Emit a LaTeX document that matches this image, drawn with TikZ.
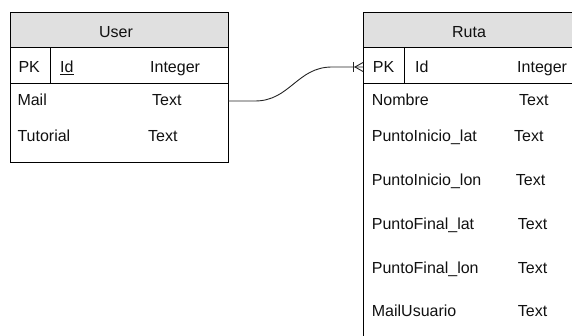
\documentclass[tikz,border=0pt]{standalone}
\usepackage{fontspec}
\setmainfont{Liberation Sans}
\definecolor{headgray}{HTML}{E0E0E0}
\definecolor{inkgray}{HTML}{111111}
\begin{document}
\begin{tikzpicture}[x=1pt,y=-1pt,
  lbl/.style={anchor=base west, inner sep=0pt, text=inkgray, font=\fontsize{16}{19}\selectfont},
  hdr/.style={anchor=base, inner sep=0pt, text=inkgray, font=\fontsize{16}{19}\selectfont},
  frame/.style={draw=black, line width=1pt},
  link/.style={draw=black!85, line width=0.9pt}]
\useasboundingbox (0,0) rectangle (572,336);
\clip (0,0) rectangle (572,336);

% ---- User table ----
\fill[headgray] (10,13) rectangle (228,47.3);
\draw[frame] (10,13) rectangle (228,162.5);
\draw[frame] (10,47.3) -- (228,47.3);
\draw[frame] (10,83.3) -- (228,83.3);
\draw[frame] (50.7,47.3) -- (50.7,83.3);
\node[hdr] (userT) at (116,37.3) {User};
\node[lbl] (userPK) at (18.3,72.5) {PK};
\node[lbl] (userId) at (60,72.5) {\underline{Id}};
\node[lbl] (userIdT) at (150,72.5) {Integer};
\node[lbl] (userMail) at (17.3,106) {Mail};
\node[lbl] (userMailT) at (152,106) {Text};
\node[lbl] (userTut) at (17.3,141.7) {Tutorial};
\node[lbl] (userTutT) at (148,141.7) {Text};
\coordinate (userOut) at (228,101);

% ---- Ruta table ----
\fill[headgray] (363,13) rectangle (590,47.3);
\draw[frame] (363,13) rectangle (590,360);
\draw[frame] (363,47.3) -- (590,47.3);
\draw[frame] (363,83.3) -- (590,83.3);
\draw[frame] (404,47.3) -- (404,83.3);
\node[hdr] (rutaT) at (469,37.3) {Ruta};
\node[lbl] (rutaPK) at (372.7,72.5) {PK};
\node[lbl] (rutaId) at (415,72.5) {Id};
\node[lbl] (rutaIdT) at (517,72.5) {Integer};
\node[lbl] (rNombre) at (371.7,106) {Nombre};
\node[lbl] (rNombreT) at (519,106) {Text};
\node[lbl] (rIniLat) at (371.7,141.7) {PuntoInicio\_lat};
\node[lbl] (rIniLatT) at (514,141.7) {Text};
\node[lbl] (rIniLon) at (371.7,186) {PuntoInicio\_lon};
\node[lbl] (rIniLonT) at (515.7,186) {Text};
\node[lbl] (rFinLat) at (371.7,229.3) {PuntoFinal\_lat};
\node[lbl] (rFinLatT) at (517.7,229.3) {Text};
\node[lbl] (rFinLon) at (371.7,273.3) {PuntoFinal\_lon};
\node[lbl] (rFinLonT) at (517.7,273.3) {Text};
\node[lbl] (rMailU) at (371.7,316) {MailUsuario};
\node[lbl] (rMailUT) at (517.7,316) {Text};
\coordinate (rutaIn) at (363,67);

% ---- relationship: one User to many Ruta ----
\draw[link] (userOut) -- (255,101) .. controls (290,101) and (297,67) .. (332,67) -- (rutaIn);
\draw[link] (353,62) -- (353,72);
\draw[link] (355,67) -- (363,62.5);
\draw[link] (355,67) -- (363,71.5);
\end{tikzpicture}
\end{document}
